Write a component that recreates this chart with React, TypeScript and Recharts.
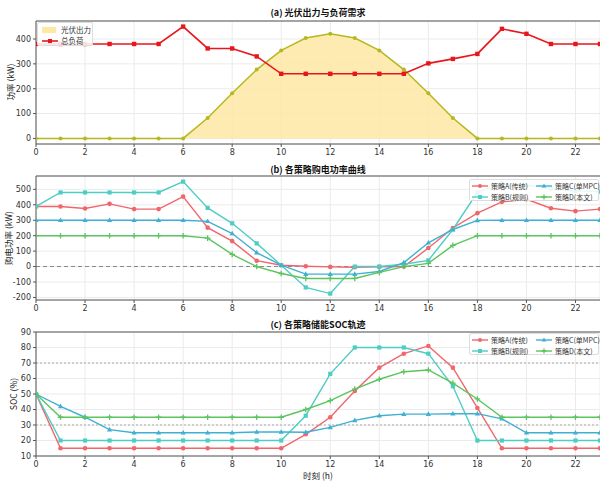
import React from 'react';
import { ComposedChart, LineChart, Line, Area, XAxis, YAxis, CartesianGrid, ReferenceLine } from 'recharts';

const hours = [0, 1, 2, 3, 4, 5, 6, 7, 8, 9, 10, 11, 12, 13, 14, 15, 16, 17, 18, 19, 20, 21, 22, 23];
const hourTicks = [0, 2, 4, 6, 8, 10, 12, 14, 16, 18, 20, 22];

// (a) PV output and total load, kW
const pvOutput = [0, 0, 0, 0, 0, 0, 0, 82, 182, 277, 354, 404, 421, 404, 354, 277, 182, 82, 0, 0, 0, 0, 0, 0];
const totalLoad = [380, 380, 380, 380, 380, 380, 450, 362, 362, 330, 260, 260, 260, 260, 260, 260, 302, 320, 340, 441, 421, 380, 380, 380];

// (b) grid purchase power per strategy, kW
const gridA = [389, 389, 376, 406, 372, 372, 453, 252, 165, 38, 9, 2, -2, -4, -2, 0, 120, 250, 346, 419, 436, 378, 359, 372];
const gridB = [390, 480, 480, 480, 480, 480, 550, 380, 280, 150, 9, -135, -175, 0, 0, 15, 40, 240, 480, 540, 528, 505, 490, 485];
const gridC = [300, 300, 300, 300, 300, 300, 300, 293, 214, 90, 9, -49, -49, -49, -32, 26, 154, 240, 299, 300, 300, 300, 300, 300];
const gridD = [200, 200, 200, 200, 200, 200, 200, 184, 79, 0, -45, -77, -77, -77, -38, 0, 21, 137, 200, 200, 200, 200, 200, 200];

// (c) storage SOC per strategy, %
const socA = [50, 15, 15, 15, 15, 15, 15, 15, 15, 15, 15, 24, 35, 52, 67, 76, 81, 67, 41, 15, 15, 15, 15, 15];
const socB = [50, 20, 20, 20, 20, 20, 20, 20, 20, 20, 20, 36, 63, 80, 80, 80, 76, 55, 20, 20, 20, 20, 20, 20];
const socC = [50, 42, 35, 27, 25, 25, 25, 25, 25, 25.5, 25.5, 25.3, 28.5, 33, 36, 37, 37, 37.3, 37.3, 34, 25, 25, 25, 25];
const socD = [50, 35, 35, 35, 35, 35, 35, 35, 35, 35, 35, 40, 45.7, 53.2, 59.5, 64.4, 65.5, 57, 46.8, 35, 35, 35, 35, 35];

const strategyNames = ['策略A(传统)', '策略B(规则)', '策略C(单MPC)', '策略D(本文)'];
const colA = '#f0666c';
const colB = '#4ecdc4';
const colC = '#3fb0d2';
const colD = '#5cc45e';

const powerRows = hours.map((h, i) => ({ hour: h, pv: pvOutput[i], load: totalLoad[i] }));
const gridRows = hours.map((h, i) => ({ hour: h, a: gridA[i], b: gridB[i], c: gridC[i], d: gridD[i] }));
const socRows = hours.map((h, i) => ({ hour: h, a: socA[i], b: socB[i], c: socC[i], d: socD[i] }));

const FONT = '"DejaVu Sans", "Noto Sans CJK SC", sans-serif';
const CJK = '"Noto Sans CJK SC", "DejaVu Sans", sans-serif';

type Shape = 'circle' | 'square' | 'triangle' | 'plus';

function Marker({ shape, cx, cy, color, s = 2.3 }: { shape: Shape; cx: number; cy: number; color: string; s?: number }) {
  if (shape === 'square') return <rect x={cx - s} y={cy - s} width={s * 2} height={s * 2} fill={color} />;
  if (shape === 'triangle')
    return <polygon points={`${cx},${cy - s - 0.5} ${cx - s - 0.3},${cy + s - 0.5} ${cx + s + 0.3},${cy + s - 0.5}`} fill={color} />;
  if (shape === 'plus')
    return <path d={`M${cx - s - 0.5},${cy}H${cx + s + 0.5}M${cx},${cy - s - 0.5}V${cy + s + 0.5}`} stroke={color} strokeWidth={1.3} />;
  return <circle cx={cx} cy={cy} r={s} fill={color} />;
}

const dot = (shape: Shape, color: string, s?: number) => (p: any) => {
  if (p.cx == null || p.cy == null) return <g key={p.index} />;
  return (
    <g key={p.index}>
      <Marker shape={shape} cx={p.cx} cy={p.cy} color={color} s={s} />
    </g>
  );
};

const tickStyle = { fontSize: 8, fill: '#333', fontFamily: FONT };

function xAxis(height: number) {
  return (
    <XAxis
      dataKey="hour"
      type="number"
      domain={[0, 23]}
      ticks={hourTicks}
      allowDataOverflow
      height={height}
      tick={tickStyle}
      tickSize={3}
      axisLine={{ stroke: '#555' }}
      tickLine={{ stroke: '#555' }}
      interval={0}
    />
  );
}

function yAxis(domain: number[], ticks: number[]) {
  return (
    <YAxis
      type="number"
      domain={domain}
      ticks={ticks}
      allowDataOverflow
      width={36}
      tick={tickStyle}
      tickSize={3}
      axisLine={{ stroke: '#555' }}
      tickLine={{ stroke: '#555' }}
      interval={0}
    />
  );
}

function Title({ text, top }: { text: string; top: number }) {
  return (
    <div style={{ position: 'absolute', left: 218, width: 200, top, textAlign: 'center', fontFamily: CJK, fontWeight: 'bold', fontSize: 9, lineHeight: '10px', color: '#111' }}>
      {text}
    </div>
  );
}

function YLabel({ text, x, y }: { text: string; x: number; y: number }) {
  return (
    <div style={{ position: 'absolute', left: x - 50, top: y - 6, width: 100, textAlign: 'center', transform: 'rotate(-90deg)', fontFamily: CJK, fontSize: 8.5, lineHeight: '12px', color: '#222' }}>
      {text}
    </div>
  );
}

function LegendSwatch({ shape, color }: { shape: Shape; color: string }) {
  return (
    <svg width={16} height={8} style={{ display: 'block' }}>
      <line x1={0} y1={4} x2={16} y2={4} stroke={color} strokeWidth={1.4} />
      <Marker shape={shape} cx={8} cy={4} color={color} s={2} />
    </svg>
  );
}

function StrategyLegend({ top }: { top: number }) {
  const items: [string, Shape, string][] = [
    [strategyNames[0], 'circle', colA],
    [strategyNames[2], 'triangle', colC],
    [strategyNames[1], 'square', colB],
    [strategyNames[3], 'plus', colD],
  ];
  return (
    <div style={{ position: 'absolute', left: 469, top, width: 130, height: 22, background: 'rgba(255,255,255,0.85)', border: '1px solid #ddd', borderRadius: 2, display: 'grid', gridTemplateColumns: '64px 64px', rowGap: 1, padding: '1px 0 0 2px', boxSizing: 'border-box' }}>
      {items.map(([name, shape, color]) => (
        <div key={name} style={{ display: 'flex', alignItems: 'center', gap: 3, height: 10 }}>
          <LegendSwatch shape={shape} color={color} />
          <span style={{ fontFamily: CJK, fontSize: 7, color: '#333', whiteSpace: 'nowrap' }}>{name}</span>
        </div>
      ))}
    </div>
  );
}

function PowerLegend() {
  return (
    <div style={{ position: 'absolute', left: 37, top: 22, width: 56, height: 24, background: 'rgba(255,255,255,0.85)', border: '1px solid #ddd', borderRadius: 2, padding: '1px 0 0 4px', boxSizing: 'border-box' }}>
      <div style={{ display: 'flex', alignItems: 'center', gap: 5, height: 11 }}>
        <div style={{ width: 14, height: 6, background: '#fde8a4' }} />
        <span style={{ fontFamily: CJK, fontSize: 7.5, color: '#333' }}>光伏出力</span>
      </div>
      <div style={{ display: 'flex', alignItems: 'center', gap: 3, height: 11 }}>
        <svg width={16} height={8} style={{ display: 'block' }}>
          <line x1={0} y1={4} x2={16} y2={4} stroke="#e8161c" strokeWidth={1.6} />
          <Marker shape="square" cx={8} cy={4} color="#e8161c" s={2} />
        </svg>
        <span style={{ fontFamily: CJK, fontSize: 7.5, color: '#333' }}>总负荷</span>
      </div>
    </div>
  );
}

export default function App() {
  return (
    <div style={{ position: 'absolute', left: 0, top: 0, width: 600, height: 482, background: '#fff', overflow: 'hidden' }}>
      <Title text="(a) 光伏出力与负荷需求" top={8} />
      <div style={{ position: 'absolute', left: 0, top: 0 }}>
        <ComposedChart width={600} height={160} data={powerRows} margin={{ top: 21, right: 0, bottom: 0, left: 0 }}>
          <CartesianGrid stroke="#ebebeb" />
          {xAxis(16)}
          {yAxis([-22.5, 472.5], [0, 100, 200, 300, 400])}
          <ReferenceLine y={472.5} stroke="#888" strokeWidth={1.4} />
          <Area dataKey="pv" type="linear" stroke="#b5b81e" strokeWidth={1.5} fill="#fde8a4" fillOpacity={0.85} dot={dot('circle', '#b5b81e', 2)} isAnimationActive={false} />
          <Line dataKey="load" type="linear" stroke="#e8161c" strokeWidth={1.6} dot={dot('square', '#e8161c', 2.2)} isAnimationActive={false} />
        </ComposedChart>
      </div>
      <PowerLegend />
      <YLabel text="功率 (kW)" x={10} y={82} />

      <Title text="(b) 各策略购电功率曲线" top={165} />
      <div style={{ position: 'absolute', left: 0, top: 160 }}>
        <LineChart width={600} height={160} data={gridRows} margin={{ top: 16, right: 0, bottom: 0, left: 0 }}>
          <CartesianGrid stroke="#ebebeb" />
          {xAxis(20)}
          {yAxis([-216.5, 586.5], [-200, -100, 0, 100, 200, 300, 400, 500])}
          <ReferenceLine y={586.5} stroke="#888" strokeWidth={1.4} />
          <ReferenceLine y={0} stroke="#888" strokeDasharray="4 3" strokeWidth={1.1} />
          <Line dataKey="a" stroke={colA} strokeWidth={1.4} dot={dot('circle', colA)} isAnimationActive={false} />
          <Line dataKey="b" stroke={colB} strokeWidth={1.4} dot={dot('square', colB, 2.1)} isAnimationActive={false} />
          <Line dataKey="c" stroke={colC} strokeWidth={1.4} dot={dot('triangle', colC)} isAnimationActive={false} />
          <Line dataKey="d" stroke={colD} strokeWidth={1.4} dot={dot('plus', colD)} isAnimationActive={false} />
        </LineChart>
      </div>
      <StrategyLegend top={179} />
      <YLabel text="购电功率 (kW)" x={8} y={238} />

      <Title text="(c) 各策略储能SOC轨迹" top={320} />
      <div style={{ position: 'absolute', left: 0, top: 320 }}>
        <LineChart width={600} height={162} data={socRows} margin={{ top: 12, right: 0, bottom: 0, left: 0 }}>
          <CartesianGrid stroke="#ebebeb" />
          {xAxis(26)}
          {yAxis([10, 90], [10, 20, 30, 40, 50, 60, 70, 80, 90])}
          <ReferenceLine y={90} stroke="#888" strokeWidth={1.6} />
          <ReferenceLine y={70} stroke="#aaa" strokeDasharray="2 2" />
          <ReferenceLine y={30} stroke="#aaa" strokeDasharray="2 2" />
          <Line dataKey="a" stroke={colA} strokeWidth={1.4} dot={dot('circle', colA)} isAnimationActive={false} />
          <Line dataKey="b" stroke={colB} strokeWidth={1.4} dot={dot('square', colB, 2.1)} isAnimationActive={false} />
          <Line dataKey="c" stroke={colC} strokeWidth={1.4} dot={dot('triangle', colC)} isAnimationActive={false} />
          <Line dataKey="d" stroke={colD} strokeWidth={1.4} dot={dot('plus', colD)} isAnimationActive={false} />
        </LineChart>
      </div>
      <StrategyLegend top={333} />
      <YLabel text="SOC (%)" x={13} y={394} />
      <div style={{ position: 'absolute', left: 268, width: 100, top: 469, textAlign: 'center', fontFamily: CJK, fontSize: 8.5, lineHeight: '12px', color: '#222' }}>
        时刻 (h)
      </div>
    </div>
  );
}
